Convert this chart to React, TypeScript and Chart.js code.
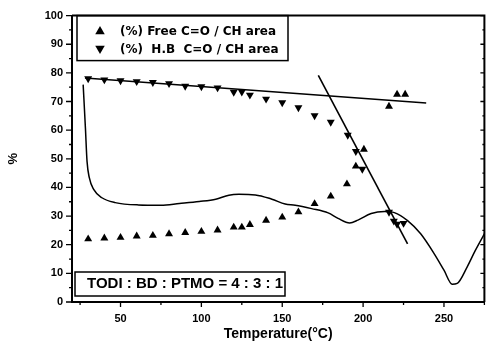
import React, { useEffect, useRef } from 'react';
import { Chart, registerables } from 'chart.js';

Chart.register(...registerables);

// ---- data ----
const freeTemps = [30, 40, 50, 60, 70, 80, 90, 100, 110, 120, 125, 130, 140, 150, 160, 170, 180, 190, 195.5, 200.5, 216, 221, 226];
const freeValues = [22, 22.3, 22.5, 23, 23.2, 23.8, 24.2, 24.6, 25.1, 26.1, 26.1, 27, 28.5, 29.6, 31.4, 34.3, 36.9, 41.2, 47.4, 53.3, 68.3, 72.5, 72.5];

const hbTemps = [30, 40, 50, 60, 70, 80, 90, 100, 110, 120, 125, 130, 140, 150, 160, 170, 180, 190.5, 195.5, 199.5, 216, 219, 221, 225];
const hbValues = [78, 77.6, 77.3, 77, 76.7, 76.3, 75.4, 75.2, 74.8, 73.3, 73.4, 72.3, 70.9, 69.6, 67.9, 65.1, 62.8, 58.3, 52.6, 46.4, 31.4, 28.3, 27.2, 27.5];

const curveTemps = [26.9, 28.3, 29.3, 30.7, 33.4, 38.5, 46.7, 61, 75, 86.4, 98.7, 108.9, 117, 123.2, 133.4, 143.6, 151.8, 158, 168.2, 178.4, 184.5, 191.7, 196.8, 205, 213.2, 219.3, 227.5, 235.6, 243.9, 250, 255.1, 258.2, 264.3, 269.4, 275.5];
const curveValues = [75.9, 60.7, 49.1, 43.4, 39.3, 36.4, 34.7, 33.9, 33.8, 34.4, 35.1, 35.9, 37.3, 37.6, 37.4, 35.9, 34.2, 33.8, 32.6, 31.1, 29.2, 27.6, 28.6, 30.9, 31.6, 31.2, 28.4, 23.8, 16.9, 11.1, 6.2, 6.5, 12.2, 18, 24.3];

const fitFlatTemps = [28, 239];
const fitFlatValues = [78.2, 69.5];
const fitSteepTemps = [172.3, 227.5];
const fitSteepValues = [79.1, 20.3];

const xTickValues = [50, 100, 150, 200, 250];
const xMinorValues = [25, 75, 125, 175, 225, 275];
const yTickValues = [0, 10, 20, 30, 40, 50, 60, 70, 80, 90, 100];
const yMinorValues = [5, 15, 25, 35, 45, 55, 65, 75, 85, 95];

const legendLabels = ['(%) Free C=O / CH area', '(%)  H.B  C=O / CH area'];
const compositionLabel = 'TODI : BD : PTMO = 4 : 3 : 1';
const xTitle = 'Temperature(\u00B0C)';
const yTitle = '%';

const zip = (xs: number[], ys: number[]) => xs.map((x, i) => ({ x, y: ys[i] }));

function tri(ctx: CanvasRenderingContext2D, x: number, y: number, r: number, down: boolean) {
  const s = down ? -1 : 1;
  ctx.beginPath();
  ctx.moveTo(x, y - s * r);
  ctx.lineTo(x + r * 0.866, y + s * r * 0.5);
  ctx.lineTo(x - r * 0.866, y + s * r * 0.5);
  ctx.closePath();
  ctx.fill();
}

const framePlugin = {
  id: 'frameDecor',
  afterDraw(chart: any) {
    const { ctx, chartArea: a, scales } = chart;
    const x = scales.x;
    const y = scales.y;
    ctx.save();
    ctx.strokeStyle = '#000';
    ctx.fillStyle = '#000';
    ctx.lineWidth = 2;
    ctx.beginPath();
    ctx.moveTo(a.left, a.top);
    ctx.lineTo(a.right, a.top);
    ctx.lineTo(a.right, a.bottom);
    ctx.stroke();

    ctx.lineWidth = 1.3;
    ctx.beginPath();
    xTickValues.forEach((v) => {
      const p = x.getPixelForValue(v);
      ctx.moveTo(p, a.bottom);
      ctx.lineTo(p, a.bottom + 5);
    });
    xMinorValues.forEach((v) => {
      const p = x.getPixelForValue(v);
      ctx.moveTo(p, a.bottom);
      ctx.lineTo(p, a.bottom + 3);
    });
    yTickValues.forEach((v) => {
      const p = y.getPixelForValue(v);
      ctx.moveTo(a.left - 6, p);
      ctx.lineTo(a.left, p);
      ctx.moveTo(a.right, p);
      ctx.lineTo(a.right - 4, p);
    });
    yMinorValues.forEach((v) => {
      const p = y.getPixelForValue(v);
      ctx.moveTo(a.left - 3, p);
      ctx.lineTo(a.left, p);
      ctx.moveTo(a.right, p);
      ctx.lineTo(a.right - 2, p);
    });
    ctx.stroke();

    // legend box
    ctx.lineWidth = 1.5;
    ctx.strokeRect(a.left + 5, a.top, 211, 45);
    tri(ctx, a.left + 28, a.top + 16, 5.5, false);
    tri(ctx, a.left + 28, a.top + 33, 5.5, true);
    ctx.font = 'bold 12px "DejaVu Sans"';
    ctx.textBaseline = 'middle';
    ctx.textAlign = 'left';
    ctx.fillText(legendLabels[0], a.left + 48, a.top + 16);
    ctx.fillText(legendLabels[1], a.left + 48, a.top + 34);

    // composition box
    ctx.strokeRect(a.left + 3, a.bottom - 30, 210, 24);
    ctx.font = 'bold 15px "Liberation Sans"';
    ctx.fillText(compositionLabel, a.left + 15, a.bottom - 18);
    ctx.restore();
  },
};

export default function App() {
  const ref = useRef<HTMLCanvasElement | null>(null);
  useEffect(() => {
    if (!ref.current) return;
    const black = '#000';
    const chart = new Chart(ref.current, {
      type: 'scatter',
      data: {
        datasets: [
          {
            label: legendLabels[0],
            data: zip(freeTemps, freeValues),
            pointStyle: 'triangle',
            pointRadius: 4.6,
            backgroundColor: black,
            borderColor: black,
            borderWidth: 0,
            showLine: false,
          },
          {
            label: legendLabels[1],
            data: zip(hbTemps, hbValues),
            pointStyle: 'triangle',
            rotation: 180,
            pointRadius: 4.6,
            backgroundColor: black,
            borderColor: black,
            borderWidth: 0,
            showLine: false,
          },
          {
            label: 'fit1',
            data: zip(fitFlatTemps, fitFlatValues),
            showLine: true,
            pointRadius: 0,
            borderColor: black,
            borderWidth: 1.6,
          },
          {
            label: 'fit2',
            data: zip(fitSteepTemps, fitSteepValues),
            showLine: true,
            pointRadius: 0,
            borderColor: black,
            borderWidth: 1.6,
          },
          {
            label: 'curve',
            data: zip(curveTemps, curveValues),
            showLine: true,
            pointRadius: 0,
            borderColor: black,
            borderWidth: 1.5,
            cubicInterpolationMode: 'monotone',
          },
        ],
      },
      options: {
        animation: false,
        responsive: false,
        events: [],
        layout: { padding: { top: 13, right: 1, left: 0, bottom: 0 } },
        plugins: { legend: { display: false }, tooltip: { enabled: false } },
        scales: {
          x: {
            type: 'linear',
            min: 20,
            max: 275,
            afterFit: (s: any) => { s.height = 43; },
            afterBuildTicks: (s: any) => { s.ticks = xTickValues.map((v) => ({ value: v })); },
            grid: { display: false, drawTicks: false },
            border: { display: true, color: black, width: 2 },
            ticks: {
              color: black,
              padding: 10,
              maxRotation: 0,
              autoSkip: false,
              font: { family: 'Liberation Sans', size: 11, weight: 'bold' },
            },
            title: {
              display: true,
              text: xTitle,
              color: black,
              padding: { top: 0, bottom: 2 },
              font: { family: 'Liberation Sans', size: 14, weight: 'bold' },
            },
          },
          y: {
            type: 'linear',
            min: 0,
            max: 100,
            afterFit: (s: any) => { s.width = 72; },
            afterBuildTicks: (s: any) => { s.ticks = yTickValues.map((v) => ({ value: v })); },
            grid: { display: false, drawTicks: false },
            border: { display: true, color: black, width: 2 },
            ticks: {
              color: black,
              padding: 9,
              autoSkip: false,
              font: { family: 'Liberation Sans', size: 11, weight: 'bold' },
            },
            title: {
              display: true,
              text: yTitle,
              color: black,
              padding: { top: 6, bottom: 0 },
              font: { family: 'Liberation Sans', size: 13, weight: 'bold' },
            },
          },
        },
      },
      plugins: [framePlugin],
    } as any);
    return () => chart.destroy();
  }, []);

  return (
    <div style={{ position: 'absolute', left: 0, top: 0, width: 489, height: 345, background: '#fff' }}>
      <canvas ref={ref} width={489} height={345} style={{ display: 'block' }} />
    </div>
  );
}
